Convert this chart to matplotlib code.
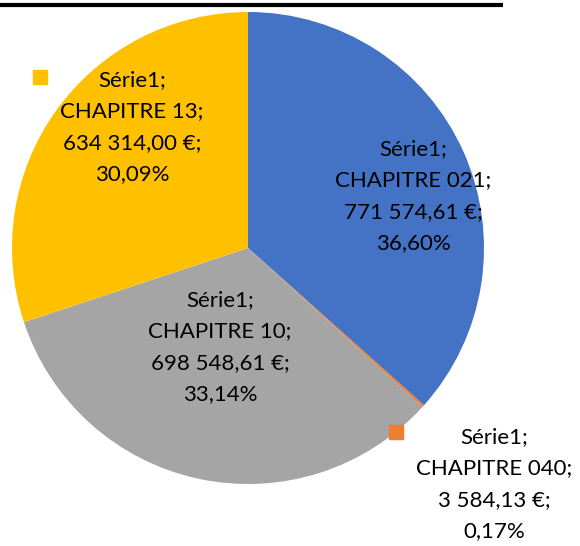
import matplotlib.pyplot as plt
from matplotlib.patches import Rectangle

# Data
series = "Série1"
chapitres = ["CHAPITRE 021", "CHAPITRE 040", "CHAPITRE 10", "CHAPITRE 13"]
montants = [771574.61, 3584.13, 698548.61, 634314.00]
couleurs = ["#4472C4", "#ED7D31", "#A5A5A5", "#FFC000"]


def euro(v):
    s = f"{v:,.2f}"
    return s.replace(",", " ").replace(".", ",") + " €"


total = sum(montants)
labels = [f"{series};\n{c};\n{euro(v)};\n{v / total * 100:.2f}%".replace(".", ",")
          for c, v in zip(chapitres, montants)]

fig = plt.figure(figsize=(5.8, 5.46), dpi=100)
ax = fig.add_axes([0, 0, 1, 1])

ax.pie(montants, colors=couleurs, startangle=90, counterclock=False,
       center=(248, 298), radius=236, frame=True)
ax.set_xlim(0, 580)
ax.set_ylim(0, 546)
ax.set_aspect("equal")
ax.axis("off")

# top border line (cut off title area)
ax.plot([0, 503], [541, 541], color="black", lw=3, solid_capstyle="butt")

# label positions (pixel coords, y from top)
pos = [(413, 196), (494, 484), (220, 347), (132, 127)]
for (x, y), lab in zip(pos, labels):
    ax.text(x, 546 - y, lab, ha="center", va="center", fontsize=16,
            family="Lato", linespacing=1.7)

# legend keys next to outside labels
for (x, y), col in [((396, 432), couleurs[1]), ((40, 77), couleurs[3])]:
    ax.add_patch(Rectangle((x - 7, 546 - y - 7), 14, 14, color=col))

fig.savefig("out.png", dpi=100)
